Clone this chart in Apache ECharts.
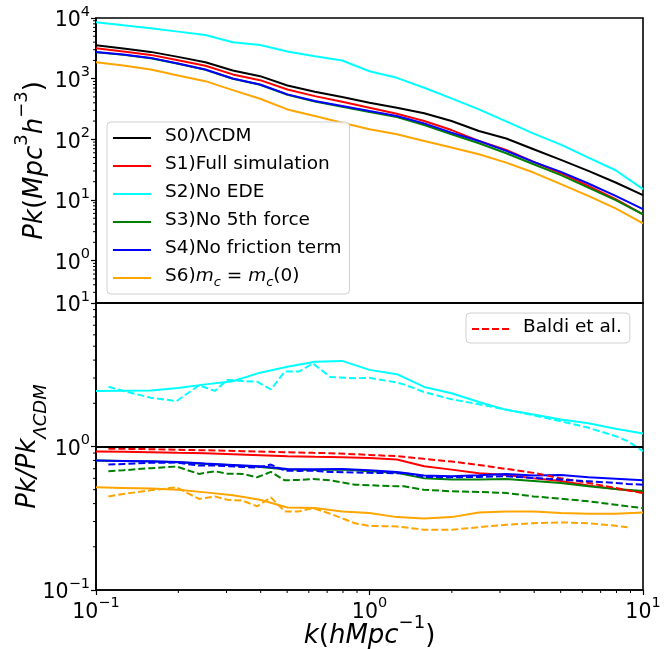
<!DOCTYPE html>
<html><head><meta charset="utf-8">
<script src="https://cdn.jsdelivr.net/npm/echarts@6/dist/echarts.min.js"></script>
<style>html,body{margin:0;padding:0;background:#fff}#c{width:670px;height:649px}</style>
</head><body><div id="c"></div>
<script>
// ---- data ----
const K = [0.1, 0.1259, 0.1585, 0.1995, 0.2512, 0.3162, 0.3981, 0.5012, 0.631, 0.7943, 1, 1.259, 1.585, 1.995, 2.512, 3.162, 3.981, 5.012, 6.31, 7.943, 10];
const pk_S0 = [3556, 3133, 2762, 2285, 1868, 1362, 1099, 772, 608, 497, 401, 332, 268, 200, 137, 103, 68.6, 45.7, 30.2, 19.4, 12.0];
const pk_S1 = [3170, 2797, 2465, 2018, 1630, 1175, 944, 664, 515, 416, 332, 264, 200, 142, 94, 66.8, 42.4, 27.6, 17.1, 10.3, 5.78];
const pk_S2 = [8490, 7570, 6760, 5960, 5260, 3980, 3600, 2800, 2345, 1990, 1327, 1032, 707, 472, 311, 198, 124, 81.7, 50.0, 30.9, 15.1];
const pk_S3 = [2727, 2466, 2173, 1754, 1397, 994, 792, 542, 421, 344, 281, 233, 172, 121, 86, 58.9, 38.8, 25.6, 16.0, 9.94, 5.78];
const pk_S4 = [2762, 2497, 2199, 1775, 1415, 1007, 802, 550, 427, 353, 292, 242, 183, 129, 94, 64.3, 42.4, 29.0, 18.7, 11.7, 7.07];
const pk_S6 = [1868, 1645, 1415, 1128, 909, 647, 466, 311, 242, 188, 146, 121, 94, 73, 56.6, 41.3, 28.3, 18.2, 11.7, 7.25, 4.11];

const r_S1 = [0.923, 0.918, 0.913, 0.903, 0.898, 0.884, 0.870, 0.856, 0.847, 0.842, 0.833, 0.811, 0.729, 0.690, 0.651, 0.634, 0.600, 0.575, 0.534, 0.506, 0.482];
const r_S2 = [2.44, 2.45, 2.46, 2.56, 2.71, 2.85, 3.27, 3.59, 3.89, 3.95, 3.42, 3.19, 2.6, 2.35, 2.04, 1.80, 1.67, 1.54, 1.45, 1.33, 1.23];
const r_S3 = [0.798, 0.794, 0.785, 0.777, 0.756, 0.740, 0.721, 0.691, 0.687, 0.691, 0.672, 0.655, 0.600, 0.588, 0.588, 0.594, 0.575, 0.557, 0.528, 0.506, 0.490];
const r_S4 = [0.798, 0.794, 0.790, 0.781, 0.760, 0.744, 0.729, 0.698, 0.694, 0.698, 0.683, 0.665, 0.627, 0.620, 0.630, 0.644, 0.627, 0.634, 0.610, 0.597, 0.581];
const r_S6 = [0.519, 0.514, 0.509, 0.500, 0.479, 0.457, 0.426, 0.376, 0.373, 0.353, 0.344, 0.322, 0.315, 0.322, 0.347, 0.353, 0.353, 0.344, 0.340, 0.340, 0.347];

const KB = [0.111, 0.126, 0.158, 0.197, 0.238, 0.272, 0.302, 0.344, 0.388, 0.436, 0.49, 0.552, 0.621, 0.719, 0.884, 1.0, 1.26, 1.335, 1.58, 2.0, 2.51, 3.16, 3.98, 5.0, 6.32, 7.95, 8.79, 10];
const b_S1 = [0.963, 0.963, 0.958, 0.948, 0.943, 0.938, 0.933, 0.928, 0.923, 0.918, 0.913, 0.908, 0.903, 0.898, 0.884, 0.874, 0.856, 0.847, 0.820, 0.785, 0.744, 0.698, 0.655, 0.600, 0.557, 0.514, 0.495, 0.474];
const b_S2 = [2.61, 2.44, 2.19, 2.07, 2.67, 2.44, 2.91, 2.86, 2.83, 2.50, 3.33, 3.33, 3.79, 3.05, 2.99, 3.01, 2.79, 2.71, 2.40, 2.13, 1.97, 1.81, 1.65, 1.50, 1.35, 1.18, 1.09, 0.928];
const b_S3 = [0.672, 0.683, 0.706, 0.725, 0.644, 0.672, 0.647, 0.644, 0.610, 0.665, 0.581, 0.585, 0.594, 0.581, 0.542, 0.537, 0.528, 0.528, 0.500, 0.487, 0.482, 0.474, 0.449, 0.433, 0.415, 0.393, 0.383, 0.372];
const b_S4 = [0.748, 0.756, 0.769, 0.773, 0.736, 0.736, 0.729, 0.721, 0.713, 0.748, 0.679, 0.676, 0.679, 0.665, 0.658, 0.655, 0.651, 0.655, 0.614, 0.610, 0.614, 0.620, 0.604, 0.588, 0.572, 0.557, 0.548, 0.542];
const b_S6 = [0.449, 0.467, 0.495, 0.519, 0.431, 0.449, 0.426, 0.419, 0.383, 0.442, 0.353, 0.353, 0.372, 0.340, 0.292, 0.280, 0.277, 0.274, 0.263, 0.263, 0.274, 0.285, 0.292, 0.296, 0.292, 0.280, 0.274, null];

const names = ['S0)\u039BCDM', 'S1)Full simulation', 'S2)No EDE', 'S3)No 5th force', 'S4)No friction term', 'S6)m_c=m_c(0)'];
const colors = ['#000000', '#ff0000', '#00ffff', '#008000', '#0000ff', '#ffa500'];

// minor tick positions (axis tick values)
const minorX = [0.2, 0.3, 0.4, 0.5, 0.6, 0.7, 0.8, 0.9, 2, 3, 4, 5, 6, 7, 8, 9];
const minorYTop = [0.3, 0.4, 0.5, 0.6, 0.7, 0.8, 0.9, 2, 3, 4, 5, 6, 7, 8, 9, 20, 30, 40, 50, 60, 70, 80, 90, 200, 300, 400, 500, 600, 700, 800, 900, 2000, 3000, 4000, 5000, 6000, 7000, 8000, 9000];
const minorYBot = [0.2, 0.3, 0.4, 0.5, 0.6, 0.7, 0.8, 0.9, 2, 3, 4, 5, 6, 7, 8, 9];

// ---- chart ----
const FONT = 'DejaVu Sans';
const chart = echarts.init(document.getElementById('c'), null, {renderer: 'canvas'});

function pow10Label(v) {
  const l = Math.log10(v); const e = Math.round(l);
  if (Math.abs(l - e) > 1e-6) return '';
  return '{b|10}{s|' + (e < 0 ? '\u2212' : '') + Math.abs(e) + '}';
}
const tickRich = {
  b: {fontFamily: FONT, fontSize: 20.5, color: '#000', lineHeight: 27, verticalAlign: 'bottom'},
  s: {fontFamily: FONT, fontSize: 14.5, color: '#000', lineHeight: 15, verticalAlign: 'top'}
};
const titleRich = {
  i: {fontFamily: FONT, fontStyle: 'italic', fontSize: 26, color: '#000', lineHeight: 35, verticalAlign: 'bottom'},
  n: {fontFamily: FONT, fontSize: 26, color: '#000', lineHeight: 35, verticalAlign: 'bottom'},
  si: {fontFamily: FONT, fontSize: 18, color: '#000', lineHeight: 19, verticalAlign: 'top'},
  it: {fontFamily: FONT, fontStyle: 'italic', fontSize: 26, color: '#000', lineHeight: 35, verticalAlign: 'top'},
  sb: {fontFamily: FONT, fontStyle: 'italic', fontSize: 18, color: '#000', lineHeight: 19, verticalAlign: 'bottom'}
};
const legRich = {
  f: {fontFamily: FONT, fontSize: 18.5, color: '#000', lineHeight: 22, padding: [0, 0, 0, 9], verticalAlign: 'top'},
  n: {fontFamily: FONT, fontSize: 18.5, color: '#000', lineHeight: 22, verticalAlign: 'top'},
  i: {fontFamily: FONT, fontStyle: 'italic', fontSize: 18.5, color: '#000', lineHeight: 22, verticalAlign: 'top'},
  c: {fontFamily: FONT, fontStyle: 'italic', fontSize: 13, color: '#000', lineHeight: 13, verticalAlign: 'bottom'}
};
function legFmt(name) {
  if (name === names[5]) return '{f|S6)}{i|m}{c|c}{n| = }{i|m}{c|c}{n|(0)}';
  return '{f|' + name + '}';
}
const solidIcon = 'path://M0,0h38v2h-38z';
const dashIcon = 'path://M0,0h7v2h-7zM10,0h7v2h-7zM20,0h7v2h-7zM30,0h7v2h-7z';

const pkArrays = [pk_S0, pk_S1, pk_S2, pk_S3, pk_S4, pk_S6];
const series = [];
pkArrays.forEach((arr, j) => {
  series.push({
    name: names[j], type: 'line', xAxisIndex: 0, yAxisIndex: 0,
    data: K.map((k, i) => [k, arr[i]]), symbol: 'none', showSymbol: false,
    lineStyle: {color: colors[j], width: 2}, itemStyle: {color: colors[j]}, z: 3
  });
});
const rArrays = [null, r_S1, r_S2, r_S3, r_S4, r_S6];
[1, 2, 3, 4, 5].forEach(j => {
  const s = {
    name: 'ratio ' + names[j], type: 'line', xAxisIndex: 1, yAxisIndex: 1,
    data: K.map((k, i) => [k, rArrays[j][i]]), symbol: 'none', showSymbol: false,
    lineStyle: {color: colors[j], width: 2}, itemStyle: {color: colors[j]}, z: 3
  };
  if (j === 1) s.markLine = {silent: true, symbol: 'none', label: {show: false},
    lineStyle: {color: '#000', width: 2, type: 'solid'}, data: [{yAxis: 1}], z: 5};
  series.push(s);
});
const bArrays = [null, b_S1, b_S2, b_S3, b_S4, b_S6];
[1, 2, 3, 4, 5].forEach(j => {
  series.push({
    name: j === 1 ? 'Baldi et al.' : 'Baldi ' + names[j], type: 'line', xAxisIndex: 1, yAxisIndex: 1,
    data: KB.map((k, i) => [k, bArrays[j][i]]), symbol: 'none', showSymbol: false, connectNulls: false,
    lineStyle: {color: colors[j], width: 2, type: [7, 3]}, itemStyle: {color: colors[j]}, z: 3
  });
});
// minor ticks via library scales
function tickSeries(xi, yi, data, horizontal) {
  return {
    type: 'custom', xAxisIndex: xi, yAxisIndex: yi, silent: true, clip: false, z: 6,
    data: data,
    renderItem: (params, api) => {
      const p = api.coord([api.value(0), api.value(1)]);
      const shape = horizontal ? {x1: p[0] - 3, y1: p[1], x2: p[0], y2: p[1]}
                               : {x1: p[0], y1: p[1], x2: p[0], y2: p[1] + 3};
      return {type: 'line', shape: shape, style: {stroke: '#000', lineWidth: 1}};
    }
  };
}
series.push(tickSeries(1, 1, minorX.map(v => [v, 0.1]), false));
series.push(tickSeries(0, 0, minorYTop.map(v => [0.1, v]), true));
series.push(tickSeries(1, 1, minorYBot.map(v => [0.1, v]), true));

const axisLineStyle = {color: '#000', width: 1.6};
const gridCommon = {show: true, borderColor: '#000', borderWidth: 1.6, backgroundColor: 'transparent', containLabel: false, outerBoundsMode: 'none'};
const option = {
  animation: false,
  backgroundColor: '#fff',
  grid: [
    Object.assign({left: 96, top: 18, width: 547, height: 285}, gridCommon),
    Object.assign({left: 96, top: 303, width: 547, height: 287}, gridCommon)
  ],
  xAxis: [
    {type: 'log', gridIndex: 0, min: 0.1, max: 10, logBase: 10,
     axisLine: {show: true, lineStyle: axisLineStyle}, axisTick: {show: false}, axisLabel: {show: false}, splitLine: {show: false}},
    {type: 'log', gridIndex: 1, min: 0.1, max: 10, logBase: 10,
     axisLine: {show: true, lineStyle: axisLineStyle}, axisTick: {show: true, length: 5, inside: false, lineStyle: {color: '#000', width: 1.2}},
     axisLabel: {show: true, margin: 6, formatter: pow10Label, rich: tickRich}, splitLine: {show: false},
     name: '{i|k}{n|(}{i|hMpc}{si|\u22121}{n|)}', nameLocation: 'middle', nameGap: 24, nameMoveOverlap: false, nameTextStyle: {rich: titleRich}}
  ],
  yAxis: [
    {type: 'log', gridIndex: 0, min: 0.2, max: 10000, logBase: 10,
     axisLine: {show: true, lineStyle: axisLineStyle}, axisTick: {show: true, length: 5, lineStyle: {color: '#000', width: 1.2}},
     axisLabel: {show: true, margin: 6, formatter: pow10Label, rich: tickRich, showMinLabel: false}, splitLine: {show: false},
     name: '{i|Pk}{n|(}{i|Mpc}{si|3}{i|h}{si|\u22123}{n|)}', nameLocation: 'middle', nameRotate: 90, nameGap: 48, nameMoveOverlap: false, nameTextStyle: {rich: titleRich}},
    {type: 'log', gridIndex: 1, min: 0.1, max: 10, logBase: 10,
     axisLine: {show: true, lineStyle: axisLineStyle}, axisTick: {show: true, length: 5, lineStyle: {color: '#000', width: 1.2}},
     axisLabel: {show: true, margin: 6, formatter: pow10Label, rich: tickRich}, splitLine: {show: false},
     name: '{it|Pk/Pk}{sb|\u039BCDM}', nameLocation: 'middle', nameRotate: 90, nameGap: 46, nameMoveOverlap: false, nameTextStyle: {rich: titleRich}}
  ],
  legend: [
    {data: names, orient: 'vertical', left: 107, top: 122, itemWidth: 38, itemHeight: 2, itemGap: 9, icon: solidIcon,
     padding: [5, 8, 5, 6], backgroundColor: 'rgba(255,255,255,0.8)', borderColor: '#d0d0d0', borderWidth: 1, borderRadius: 4,
     formatter: legFmt, textStyle: {fontFamily: FONT, fontSize: 18.5, color: '#000', rich: legRich}, selectedMode: false},
    {data: ['Baldi et al.'], orient: 'vertical', left: 466, top: 313, itemWidth: 37, itemHeight: 2, icon: dashIcon,
     padding: [5, 8, 6, 6], backgroundColor: 'rgba(255,255,255,0.8)', borderColor: '#d0d0d0', borderWidth: 1, borderRadius: 4,
     formatter: legFmt, textStyle: {fontFamily: FONT, fontSize: 18.5, color: '#000', rich: legRich}, selectedMode: false}
  ],
  series: series
};
chart.setOption(option);
</script>
</body></html>
